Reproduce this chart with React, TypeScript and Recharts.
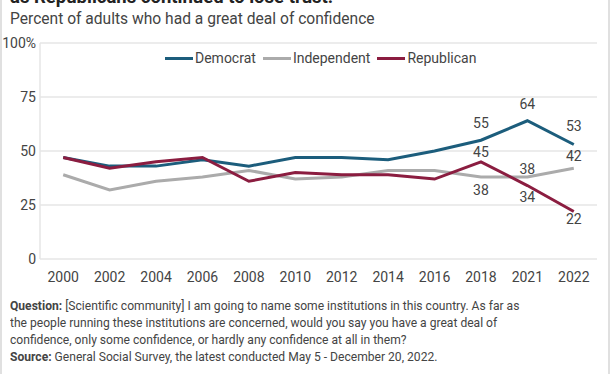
import React from 'react';
import { LineChart, Line, XAxis, YAxis, CartesianGrid, LabelList } from 'recharts';

const years = ['2000', '2002', '2004', '2006', '2008', '2010', '2012', '2014', '2016', '2018', '2021', '2022'];
const democrat = [47, 43, 43, 46, 43, 47, 47, 46, 50, 55, 64, 53];
const independent = [39, 32, 36, 38, 41, 37, 38, 41, 41, 38, 38, 42];
const republican = [47, 42, 45, 47, 36, 40, 39, 39, 37, 45, 34, 22];
const yTicks = [0, 25, 50, 75, 100];

const data = years.map((year, i) => ({
  year,
  Democrat: democrat[i],
  Independent: independent[i],
  Republican: republican[i],
}));

const series = [
  { key: 'Democrat', color: '#1c5d7c' },
  { key: 'Independent', color: '#ababab' },
  { key: 'Republican', color: '#8b1d40' },
];

// label vertical offsets (px, label centre relative to point) for labelled points
const labelOffsets: Record<string, Record<number, number>> = {
  Democrat: { 9: -17, 10: -17, 11: -18 },
  Independent: { 9: 13, 10: -8, 11: -12 },
  Republican: { 9: -10, 10: 11, 11: 8 },
};

const FONT = 'Roboto, "Noto Sans", sans-serif';

const makeLabel = (key: string) => (props: any) => {
  const { x, y, value, index } = props;
  const off = labelOffsets[key][index];
  if (off === undefined) return null;
  return (
    <text
      x={x}
      y={y + off}
      dy="0.355em"
      textAnchor="middle"
      fontSize={14}
      fontFamily={FONT}
      fill="#444"
    >
      {value}
    </text>
  );
};

export default function App() {
  return (
    <div
      style={{
        position: 'absolute',
        left: 0,
        top: 0,
        width: 612,
        height: 374,
        overflow: 'hidden',
        background: '#fff',
        fontFamily: FONT,
      }}
    >
      <div style={{ position: 'absolute', left: 0, top: 0, width: 2, height: 374, background: '#e0e0e0' }} />
      <div style={{ position: 'absolute', left: 608, top: 0, width: 2, height: 374, background: '#e0e0e0' }} />
      <div
        style={{
          position: 'absolute',
          left: 10,
          top: -14,
          fontSize: 18.5,
          lineHeight: '22px',
          fontWeight: 700,
          color: '#222',
          whiteSpace: 'nowrap',
        }}
      >
        as Republicans continued to lose trust.
      </div>
      <div
        style={{
          position: 'absolute',
          left: 10,
          top: 8.8,
          fontSize: 15.6,
          lineHeight: '20px',
          color: '#444',
          whiteSpace: 'nowrap',
        }}
      >
        Percent of adults who had a great deal of confidence
      </div>
      <div style={{ position: 'absolute', left: 0, top: 0 }}>
        <LineChart width={612} height={300} data={data} margin={{ top: 43, right: 15, bottom: 11, left: 0 }}>
          <CartesianGrid vertical={false} stroke="#e6e6e6" strokeWidth={1.5} />
          <XAxis
            dataKey="year"
            scale="band"
            axisLine={false}
            tickLine={false}
            tickSize={0}
            tickMargin={13}
            height={30}
            interval={0}
            tick={{ fontSize: 14, fill: '#444', fontFamily: FONT }}
          />
          <YAxis
            domain={[0, 100]}
            ticks={yTicks}
            width={40}
            axisLine={{ stroke: '#e6e6e6', strokeWidth: 1.5 }}
            tickLine={false}
            tickSize={0}
            tickMargin={4}
            tickFormatter={(v: number) => (v === 100 ? '100%' : String(v))}
            tick={{ fontSize: 14, fill: '#444', fontFamily: FONT }}
          />
          {series.map((s) => (
            <Line
              key={s.key}
              type="linear"
              dataKey={s.key}
              stroke={s.color}
              strokeWidth={3}
              dot={false}
              activeDot={false}
              isAnimationActive={false}
            >
              <LabelList dataKey={s.key} content={makeLabel(s.key)} />
            </Line>
          ))}
        </LineChart>
      </div>
      <div
        style={{
          position: 'absolute',
          left: 165,
          top: 48,
          display: 'flex',
          alignItems: 'center',
          fontSize: 14,
          lineHeight: '20px',
          color: '#444',
          whiteSpace: 'nowrap',
        }}
      >
        {series.map((s) => (
          <div key={s.key} style={{ display: 'flex', alignItems: 'center', marginRight: 7 }}>
            <div style={{ width: 28, height: 3, background: s.color, marginRight: 2 }} />
            <span>{s.key}</span>
          </div>
        ))}
      </div>
      <div
        style={{
          position: 'absolute',
          left: 10,
          top: 297,
          fontSize: 13,
          lineHeight: '17px',
          color: '#444',
          whiteSpace: 'nowrap',
          transform: 'scaleX(0.93)',
          transformOrigin: '0 0',
        }}
      >
        <div>
          <b>Question:</b> [Scientific community] I am going to name some institutions in this country. As far as
        </div>
        <div>the people running these institutions are concerned, would you say you have a great deal of</div>
        <div>confidence, only some confidence, or hardly any confidence at all in them?</div>
        <div>
          <b>Source:</b> General Social Survey, the latest conducted May 5 - December 20, 2022.
        </div>
      </div>
    </div>
  );
}
